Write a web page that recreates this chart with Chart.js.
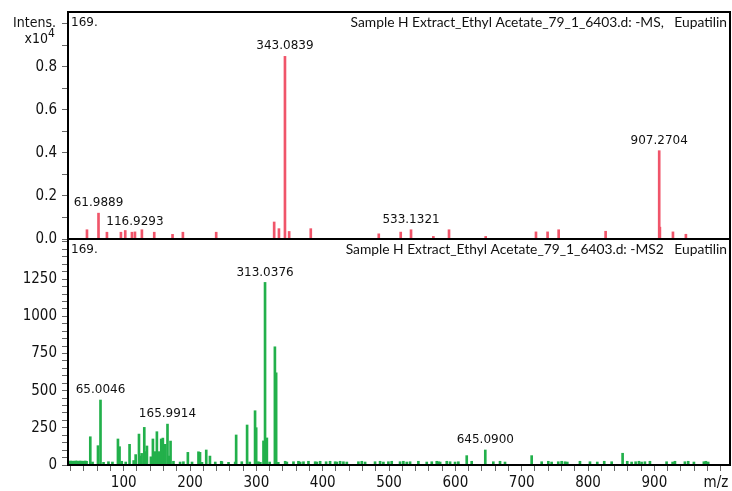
<!DOCTYPE html>
<html lang="en">
<head>
  <meta charset="UTF-8">
  <title>Eupatilin MS / MS2</title>
  <script src="https://cdn.jsdelivr.net/npm/chart.js"></script>
  <style>
    body { margin: 0; background: #fff; }
    #wrap { position: relative; width: 732px; height: 491px; }
    canvas { position: absolute; left: 0; }
    #ms { top: 0; }
    #ms2 { top: 235px; }
  </style>
</head>
<body>

<div id="wrap">
  <canvas id="ms" width="732" height="250"></canvas>
  <canvas id="ms2" width="732" height="256"></canvas>
</div>

<script>
  // m/z range shown on both panels
  const mzMin = 16, mzMax = 1014;

  // MS (top, red)
  const msMz  = [44.6, 61.9889, 74.7, 95.8, 102.3, 112.4, 116.9293, 127.4, 146, 173.6, 189.2, 239.4,
                 326.8, 334, 343.0839, 349.4, 382, 484.5, 517.6, 533.1321, 566.8, 590.4, 645.7,
                 721.5, 739, 755.7, 826.5, 907.2704, 908.3, 928, 947.5];
  const msInt = [430, 1200, 315, 315, 395, 315, 330, 430, 315, 215, 315, 315,
                 790, 480, 8480, 350, 480, 240, 320, 430, 120, 430, 120,
                 330, 330, 430, 360, 4100, 550, 330, 220];
  const msLabels = [61.9889, 116.9293, 343.0839, 533.1321, 907.2704];
  const msYMajor = [0, 2000, 4000, 6000, 8000];
  const msYMajorText = ['0.0', '0.2', '0.4', '0.6', '0.8'];
  const msYMinor = [1000, 3000, 5000, 7000, 9000, 10000];

  // MS2 (bottom, green)
  const ms2Mz  = [49.6, 61.2, 65.0046, 91.3, 93.7, 108.8, 118, 123, 125, 127, 131, 133, 135, 141, 144, 147, 150, 153,
                  156.5, 159, 162.6, 165.9914, 168, 170.6, 196.7, 212.7, 215, 224.4, 230, 247,
                  269.5, 286, 298, 299.7, 310.7, 313.0376, 315.8, 327.9, 329.8,
                  617.1, 645.09, 715, 852.1];
  const ms2Int = [190, 130, 437, 175, 123, 139, 70, 208, 60, 78, 253, 90, 128, 55, 175, 90, 224, 90,
                  175, 181, 139, 275, 60, 161, 85, 89, 85, 101, 60, 25,
                  202, 269, 365, 251, 162, 1228, 182, 795, 620,
                  63, 101, 63, 79];
  // baseline noise of the MS2 trace
  const ms2NoiseMz  = [18, 20, 22, 24, 26, 28, 30, 32, 34, 36, 38, 40, 42, 44, 53, 69.6, 77, 83, 97, 103, 115,
                       175, 185, 190, 203, 218, 238, 248, 258, 268, 278, 290, 303, 306, 320, 333,
                       343.4, 345.9, 355.9, 363.4, 366, 371, 378.5, 388.6, 391.1, 396.1, 405.1, 411.1, 418.7,
                       421.2, 426.2, 431.2, 436.3, 453.8, 458.9, 463.9, 478.9, 486.5, 491.5, 499, 504, 516.6,
                       521.6, 526.7, 531.7, 544.2, 556.8, 564.4, 571.9, 574.4, 577, 587, 592, 599.5, 604.5,
                       624.6, 657.2, 667.3, 674.8, 730.1, 740.1, 745.1, 755.1, 760.2, 765.2, 768.7, 787.8,
                       802.9, 813.9, 824.4, 835.6, 859.1, 865.7, 871.7, 876.7, 880.7, 885.7, 893.3, 918.4,
                       927.5, 931, 946, 951, 959.6, 974.6, 977.6, 981.1];
  const ms2NoiseInt = [25, 27, 24, 26, 25, 27, 26, 24, 27, 25, 26, 24, 27, 25, 20, 18, 22, 20, 25, 20, 30,
                       25, 20, 22, 20, 18, 20, 22, 18, 20, 22, 20, 22, 18, 20, 18,
                       25, 20, 22, 25, 20, 22, 25, 22, 20, 25, 22, 25, 22,
                       20, 25, 22, 20, 22, 25, 20, 22, 25, 20, 22, 25, 22,
                       25, 20, 22, 25, 20, 22, 25, 22, 20, 25, 22, 20, 22,
                       25, 22, 25, 20, 22, 25, 20, 22, 25, 22, 20, 25,
                       22, 20, 25, 22, 25, 20, 22, 25, 20, 22, 25, 22,
                       20, 25, 22, 25, 20, 22, 25, 20];
  const ms2Labels = [65.0046, 165.9914, 313.0376, 645.09];
  const ms2YMajor = [0, 250, 500, 750, 1000, 1250];
  const ms2YMinor = [50, 100, 150, 200, 300, 350, 400, 450, 550, 600, 650, 700, 800, 850, 900, 950,
                     1050, 1100, 1150, 1200, 1300, 1350, 1400, 1450, 1500];
  const xMajor = [100, 200, 300, 400, 500, 600, 700, 800, 900];
  const xMinor = [20, 40, 60, 80, 120, 140, 160, 180, 220, 240, 260, 280, 320, 340, 360, 380, 420, 440, 460, 480,
                  520, 540, 560, 580, 620, 640, 660, 680, 720, 740, 760, 780, 820, 840, 860, 880, 920, 940, 960, 980, 1000];

  const tickFont = { family: '"DejaVu Sans Condensed", "DejaVu Sans"', size: 15 };

  function toPoints(mz, ints) {
    return mz.map((m, i) => ({ x: m, y: ints[i] }));
  }

  function noPad(s) {
    s.paddingTop = 0; s.paddingBottom = 0; s.paddingLeft = 0; s.paddingRight = 0;
  }

  const decor = {
    id: 'decor',
    afterDatasetsDraw(chart, args, opts) {
      const { ctx, chartArea: a, scales } = chart;
      ctx.save();

      ctx.font = '12px "DejaVu Sans"';
      ctx.fillStyle = '#111';
      ctx.textAlign = 'center';
      ctx.textBaseline = 'bottom';
      opts.labels.forEach(m => {
        const i = opts.mz.indexOf(m);
        const x = scales.x.getPixelForValue(m);
        const y = scales.y.getPixelForValue(opts.ints[i]);
        ctx.fillText(m.toFixed(4), x, y - 4);
      });

      ctx.strokeStyle = '#000';
      ctx.lineWidth = 2;
      ctx.strokeRect(a.left, a.top, a.right - a.left, a.bottom - a.top);

      ctx.textBaseline = 'top';
      ctx.textAlign = 'left';
      ctx.font = '12px "DejaVu Sans"';
      ctx.fillText('169.', a.left + 3, a.top + 5);
      ctx.textAlign = 'right';
      ctx.font = '13.8px Lato';
      ctx.fillText(opts.title, a.right - 3, a.top + 4);

      if (opts.intens) {
        ctx.textBaseline = 'alphabetic';
        ctx.font = '14px "DejaVu Sans Condensed", "DejaVu Sans"';
        ctx.fillText('Intens.', 56, 27);
        ctx.fillText('x10', 48, 43);
        ctx.textAlign = 'left';
        ctx.font = '12px "DejaVu Sans Condensed", "DejaVu Sans"';
        ctx.fillText('4', 48, 37);
      }
      if (opts.mzTitle) {
        ctx.textBaseline = 'alphabetic';
        ctx.textAlign = 'center';
        ctx.font = '15px "DejaVu Sans Condensed", "DejaVu Sans"';
        ctx.fillText('m/z', 716, 252);
      }
      ctx.restore();
    }
  };

  Chart.register(decor);

  new Chart(document.getElementById('ms'), {
    type: 'bar',
    data: {
      datasets: [{
        data: toPoints(msMz, msInt),
        backgroundColor: '#f0556a',
        borderWidth: 0,
        barThickness: 2
      }]
    },
    options: {
      responsive: false,
      animation: false,
      layout: { padding: { top: 12, right: 2, bottom: 11, left: 0 } },
      scales: {
        x: { type: 'linear', min: mzMin, max: mzMax, offset: false, display: false, grid: { offset: false } },
        y: {
          min: 0, max: 10540,
          afterBuildTicks: s => { s.ticks = msYMajor.concat(msYMinor).map(v => ({ value: v })); },
          afterFit: s => { s.width = 68; noPad(s); },
          ticks: {
            autoSkip: false, padding: 5, color: '#111', font: tickFont,
            callback: v => { const k = msYMajor.indexOf(v); return k >= 0 ? msYMajorText[k] : ''; }
          },
          grid: { drawOnChartArea: false, tickLength: 6, tickColor: '#666' },
          border: { display: false }
        }
      },
      plugins: {
        legend: { display: false },
        tooltip: { enabled: false },
        decor: {
          mz: msMz, ints: msInt, labels: msLabels, intens: true,
          title: 'Sample H Extract_Ethyl Acetate_79_1_6403.d: -MS,   Eupatilin'
        }
      }
    }
  });

  new Chart(document.getElementById('ms2'), {
    type: 'bar',
    data: {
      datasets: [{
        data: toPoints(ms2Mz.concat(ms2NoiseMz), ms2Int.concat(ms2NoiseInt)),
        backgroundColor: '#22b04b',
        borderWidth: 0,
        barThickness: 2
      }]
    },
    options: {
      responsive: false,
      animation: false,
      layout: { padding: { top: 4, right: 2, bottom: 0, left: 0 } },
      scales: {
        x: {
          type: 'linear', min: mzMin, max: mzMax, offset: false,
          afterBuildTicks: s => { s.ticks = xMajor.concat(xMinor).map(v => ({ value: v })); },
          afterFit: s => { s.height = 26; noPad(s); },
          ticks: {
            autoSkip: false, maxRotation: 0, padding: 3, color: '#111', font: tickFont,
            callback: v => xMajor.includes(v) ? String(v) : ''
          },
          grid: { drawOnChartArea: false, offset: false, tickLength: 6, tickColor: '#666' },
          border: { display: false }
        },
        y: {
          min: 0, max: 1520,
          afterBuildTicks: s => { s.ticks = ms2YMajor.concat(ms2YMinor).map(v => ({ value: v })); },
          afterFit: s => { s.width = 68; noPad(s); },
          ticks: {
            autoSkip: false, padding: 5, color: '#111', font: tickFont,
            callback: v => ms2YMajor.includes(v) ? String(v) : ''
          },
          grid: { drawOnChartArea: false, tickLength: 6, tickColor: '#666' },
          border: { display: false }
        }
      },
      plugins: {
        legend: { display: false },
        tooltip: { enabled: false },
        decor: {
          mz: ms2Mz, ints: ms2Int, labels: ms2Labels, mzTitle: true,
          title: 'Sample H Extract_Ethyl Acetate_79_1_6403.d: -MS2   Eupatilin'
        }
      }
    }
  });
</script>

</body>
</html>
